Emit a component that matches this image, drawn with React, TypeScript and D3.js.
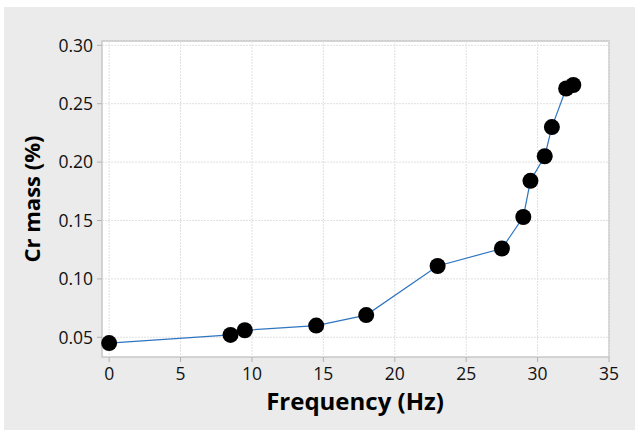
import React from 'react';
import * as d3 from 'd3';

const frequency = [0, 8.5, 9.5, 14.5, 18, 23, 27.5, 29, 29.5, 30.5, 31, 32, 32.5];
const crMass = [0.045, 0.052, 0.056, 0.06, 0.069, 0.111, 0.126, 0.153, 0.184, 0.205, 0.23, 0.263, 0.266];
const xTicks = [0, 5, 10, 15, 20, 25, 30, 35];
const yTicks = [0.05, 0.1, 0.15, 0.2, 0.25, 0.3];

const W = 635;
const H = 430;
const plot = {left: 102, top: 41, right: 609, bottom: 357};
const font = '"Open Sans", "Noto Sans", sans-serif';

export default function App() {
  const x = d3.scaleLinear().domain([-0.5, 35]).range([plot.left, plot.right]);
  const y = d3.scaleLinear().domain([0.0331, 0.3037]).range([plot.bottom, plot.top]);
  const pts: [number, number][] = frequency.map((f, i) => [f, crMass[i]]);
  const line = d3.line<[number, number]>().x(d => x(d[0])).y(d => y(d[1]));

  return (
    <svg
      width={W}
      height={H}
      style={{position: 'absolute', left: 0, top: 0, background: '#fff'}}
      fontFamily={font}
    >
      <rect x={4} y={7} width={W - 4} height={H - 7} fill="#ebebeb" />
      <rect
        x={plot.left}
        y={plot.top}
        width={plot.right - plot.left}
        height={plot.bottom - plot.top}
        fill="#fff"
        stroke="#c8c8c8"
        strokeWidth={1.5}
      />
      {xTicks.map(t => (
        <g key={'x' + t}>
          <line x1={x(t)} x2={x(t)} y1={plot.top} y2={plot.bottom} stroke="#e0e0e0" strokeDasharray="2,1" />
          <line x1={x(t)} x2={x(t)} y1={plot.bottom} y2={plot.bottom + 5} stroke="#b0b0b0" />
          <text x={x(t)} y={380} textAnchor="middle" fontSize={17.5} fill="#111">
            {t}
          </text>
        </g>
      ))}
      {yTicks.map(t => (
        <g key={'y' + t}>
          <line x1={plot.left} x2={plot.right} y1={y(t)} y2={y(t)} stroke="#e0e0e0" strokeDasharray="2,1" />
          <line x1={plot.left - 5} x2={plot.left} y1={y(t)} y2={y(t)} stroke="#b0b0b0" />
          <text x={93} y={y(t)} dy="0.36em" textAnchor="end" fontSize={17.5} fill="#111">
            {d3.format('.2f')(t)}
          </text>
        </g>
      ))}
      <path d={line(pts) || ''} fill="none" stroke="#2f75c0" strokeWidth={1.2} />
      {pts.map((d, i) => (
        <circle key={i} cx={x(d[0])} cy={y(d[1])} r={8} fill="#000" />
      ))}
      <text x={355} y={410} textAnchor="middle" fontSize={24} fontWeight="bold" fill="#000">
        Frequency (Hz)
      </text>
      <text
        transform={`translate(40,${(plot.top + plot.bottom) / 2}) rotate(-90)`}
        textAnchor="middle"
        fontSize={22}
        fontWeight="bold"
        fill="#000"
      >
        Cr mass (%)
      </text>
    </svg>
  );
}
